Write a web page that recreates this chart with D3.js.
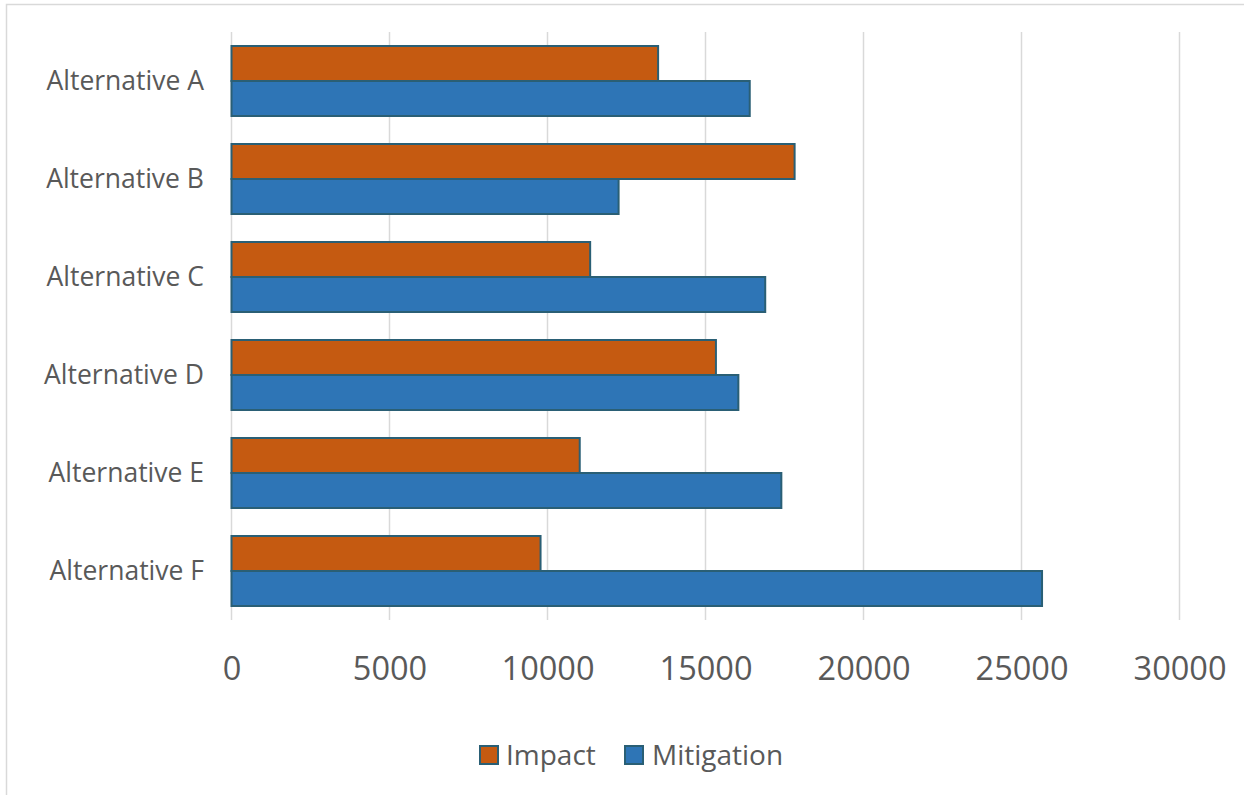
<!DOCTYPE html>
<html>
<head>
<meta charset="utf-8">
<script src="https://cdn.jsdelivr.net/npm/d3@7"></script>
<style>
  html, body { margin: 0; padding: 0; background: #fff; }
  svg { display: block; }
  text { font-family: "Open Sans", sans-serif; fill: #595959; }
</style>
</head>
<body>
<svg id="chart" width="1244" height="795"></svg>
<script>
const categories = ["Alternative A", "Alternative B", "Alternative C", "Alternative D", "Alternative E", "Alternative F"];
const seriesNames = ["Impact", "Mitigation"];
const impact = [13500, 17820, 11350, 15330, 11020, 9780];
const mitigation = [16400, 12250, 16890, 16040, 17400, 25650];
const tickValues = [0, 5000, 10000, 15000, 20000, 25000, 30000];
const colors = ["#C55A11", "#2E75B6"];

const svg = d3.select("#chart");
// chart frame (cropped at right and bottom)
svg.append("rect")
  .attr("x", 6.5).attr("y", 4.5)
  .attr("width", 1300).attr("height", 900)
  .attr("fill", "none").attr("stroke", "#D9D9D9").attr("stroke-width", 1.5);

const plot = { left: 231.5, right: 1179.5, top: 32, bottom: 620 };

const x = d3.scaleLinear().domain([0, 30000]).range([plot.left, plot.right]);
const y = d3.scaleBand().domain(categories).range([plot.top, plot.bottom]).paddingInner(0).paddingOuter(0);
const groupH = 70;
const ySub = d3.scaleBand().domain(seriesNames).range([0, groupH]);

// gridlines
svg.append("g").selectAll("line").data(tickValues).join("line")
  .attr("x1", d => x(d)).attr("x2", d => x(d))
  .attr("y1", plot.top).attr("y2", plot.bottom)
  .attr("stroke", "#D9D9D9").attr("stroke-width", 1.5);

// x axis labels
const xAxis = d3.axisBottom(x).tickValues(tickValues).tickSize(0).tickPadding(0).tickFormat(d3.format("d"));
const gx = svg.append("g").attr("transform", `translate(0, ${plot.bottom})`).call(xAxis);
gx.select(".domain").remove();
gx.selectAll("text")
  .attr("y", 49).attr("dy", "0.35em")
  .style("font-size", "32.5px").style("font-family", "'Open Sans', sans-serif").attr("fill", "#595959");

// y axis labels
const yAxis = d3.axisLeft(y).tickSize(0).tickPadding(0);
const gy = svg.append("g").attr("transform", `translate(204, 0)`).call(yAxis);
gy.select(".domain").remove();
gy.selectAll("text")
  .attr("dy", "0.35em")
  .style("font-size", "26.5px").style("font-family", "'Open Sans', sans-serif").attr("fill", "#595959");

// bars
const data = categories.map((c, i) => ({ cat: c, vals: [impact[i], mitigation[i]] }));
const groups = svg.append("g").selectAll("g").data(data).join("g")
  .attr("transform", d => `translate(0, ${y(d.cat) + (y.bandwidth() - groupH) / 2})`);
groups.selectAll("rect").data(d => d.vals.map((v, j) => ({ v, s: seriesNames[j], j })))
  .join("rect")
  .attr("x", x(0))
  .attr("y", d => ySub(d.s))
  .attr("width", d => x(d.v) - x(0))
  .attr("height", ySub.bandwidth())
  .attr("fill", d => colors[d.j])
  .attr("stroke", "#2A5F75").attr("stroke-width", 2);

// legend
const legendItems = [
  { name: seriesNames[0], color: colors[0], sx: 480, tx: 506 },
  { name: seriesNames[1], color: colors[1], sx: 625, tx: 652 }
];
const lg = svg.append("g");
lg.selectAll("rect").data(legendItems).join("rect")
  .attr("x", d => d.sx).attr("y", 746).attr("width", 18).attr("height", 18)
  .attr("fill", d => d.color).attr("stroke", "#2A5F75").attr("stroke-width", 2);
lg.selectAll("text").data(legendItems).join("text")
  .attr("x", d => d.tx).attr("y", 755).attr("dy", "0.35em")
  .style("font-size", "28px")
  .text(d => d.name);
</script>
</body>
</html>
